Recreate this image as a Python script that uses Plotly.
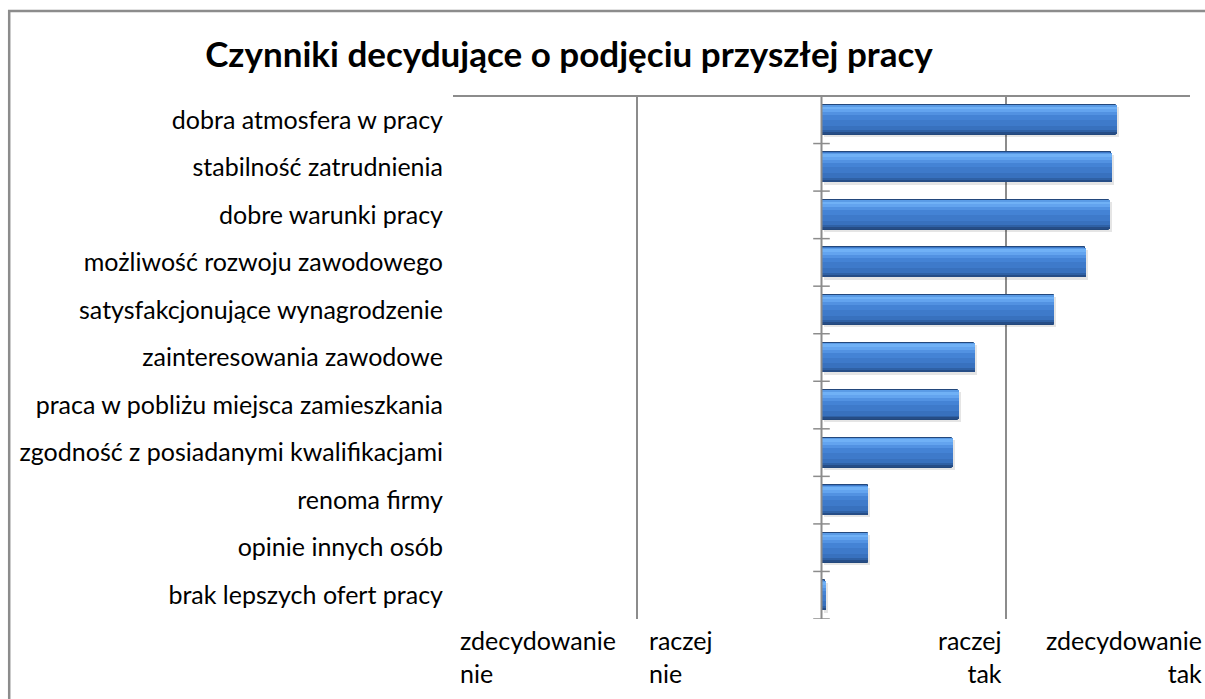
import plotly.graph_objects as go

categories = [
    "dobra atmosfera w pracy",
    "stabilność zatrudnienia",
    "dobre warunki pracy",
    "możliwość rozwoju zawodowego",
    "satysfakcjonujące wynagrodzenie",
    "zainteresowania zawodowe",
    "praca w pobliżu miejsca zamieszkania",
    "zgodność z posiadanymi kwalifikacjami",
    "renoma firmy",
    "opinie innych osób",
    "brak lepszych ofert pracy",
]
values = [1.60, 1.57, 1.56, 1.43, 1.26, 0.83, 0.74, 0.71, 0.25, 0.25, 0.02]

tick_positions = [-2, -1, 1, 2]
tick_labels = ["zdecydowanie<br>nie", "raczej<br>nie", "raczej<br>tak", "zdecydowanie<br>tak"]

# body margin is removed in the page, so figure coords == page coords
W, H = 1205, 699
L, R, T, B = 453, 15, 96, 80
FONT = "Lato, 'Open Sans', sans-serif"

ypos = list(range(len(categories)))
bw = 0.63
top = -bw / 2

fig = go.Figure()

# shadow
fig.add_trace(go.Bar(y=[p + 0.05 for p in ypos], x=values, orientation="h", width=bw,
                     marker=dict(color="rgba(0,0,0,0.10)", line=dict(width=0)), base=0.015,
                     hoverinfo="skip", showlegend=False))
# base bar
fig.add_trace(go.Bar(y=ypos, x=values, orientation="h", width=bw,
                     marker=dict(color="#3d78c8", line=dict(color="#23487c", width=1)),
                     showlegend=False))
# gradient bands (fraction from top, fraction to, colour)
bands = [
    (0.03, 0.06, "#5a9be6"),
    (0.06, 0.15, "#70b1f6"),
    (0.15, 0.25, "#63a4ef"),
    (0.25, 0.35, "#5292e2"),
    (0.35, 0.50, "#4483d5"),
    (0.50, 0.70, "#3e7aca"),
    (0.70, 0.85, "#3871be"),
    (0.85, 0.93, "#2f61a5"),
    (0.93, 0.975, "#264d86"),
]
for f0, f1, col in bands:
    w = (f1 - f0) * bw
    c = top + (f0 + f1) / 2 * bw
    fig.add_trace(go.Bar(y=[p + c for p in ypos], x=values, orientation="h", width=w,
                         base=0.004, marker=dict(color=col, line=dict(width=0)),
                         hoverinfo="skip", showlegend=False))

px = lambda v: (v - L) / (W - L - R)
py = lambda v: 1 - (v - T) / (H - T - B)

shapes = []
# top border of plot area
shapes.append(dict(type="line", xref="x", yref="paper", x0=-2, x1=2, y0=1, y1=1,
                   line=dict(color="#8c8c8c", width=2)))
# zero axis line
shapes.append(dict(type="line", xref="x", yref="paper", x0=0, x1=0, y0=0, y1=1,
                   line=dict(color="#8c8c8c", width=2)))
# cross ticks on zero axis
for i in range(len(categories)):
    yb = i + 0.5
    shapes.append(dict(type="line", xref="x", yref="y", x0=-0.045, x1=0.045, y0=yb, y1=yb,
                       line=dict(color="#8c8c8c", width=1.5)))
# outer chart border
shapes.append(dict(type="rect", xref="paper", yref="paper", x0=px(9.2), x1=px(W + 20),
                   y0=py(H + 20), y1=py(11), line=dict(color="#8c8c8c", width=2.5),
                   fillcolor="rgba(0,0,0,0)", layer="below"))

annotations = []
tick_cfg = [("left", 5), ("left", 10), ("right", -2), ("right", 14)]
for pos, lab, (anc, sh) in zip(tick_positions, tick_labels, tick_cfg):
    annotations.append(dict(x=pos, y=0, xref="x", yref="paper", text=lab, showarrow=False,
                            xanchor=anc, yanchor="top", align=anc, xshift=sh, yshift=-4,
                            font=dict(family=FONT, size=25, color="#000000")))

fig.update_layout(
    width=W, height=H,
    margin=dict(l=L, r=R, t=T, b=B, autoexpand=False),
    paper_bgcolor="white", plot_bgcolor="white",
    barmode="overlay", bargap=0,
    title=dict(text="<b>Czynniki decydujące o podjęciu przyszłej pracy</b>",
               x=569 / W, xanchor="center", xref="container", y=1 - 55 / H,
               yanchor="middle", yref="container",
               font=dict(family=FONT, size=35, color="#000000")),
    xaxis=dict(range=[-2, 2], tickvals=tick_positions, showticklabels=False,
               showgrid=True, gridcolor="#8c8c8c", gridwidth=2, zeroline=False,
               showline=False, ticks="", fixedrange=True, automargin=False),
    yaxis=dict(tickvals=ypos, ticktext=categories, range=[len(categories) - 0.5, -0.5],
               showgrid=False, zeroline=False, showline=False, ticks="",
               ticklabelstandoff=9, automargin=False, fixedrange=True,
               tickfont=dict(family=FONT, size=25, color="#000000")),
    shapes=shapes, annotations=annotations,
    font=dict(family=FONT),
)

fig.write_html("out.html", config={"displayModeBar": False},
               post_script="document.body.style.margin='0';document.body.style.overflow='hidden';")
